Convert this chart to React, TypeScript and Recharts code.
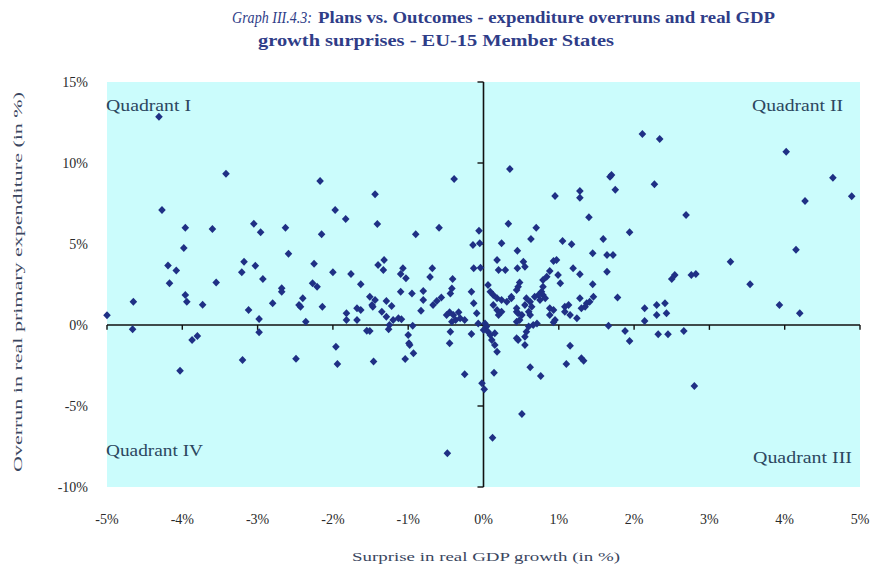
import { CartesianGrid, ReferenceLine, Scatter, ScatterChart, XAxis, YAxis } from "recharts";

// [growth surprise %, expenditure overrun %]
const upperLeft: [number, number][] = [
  [-4.31, 12.86], [-3.42, 9.34], [-4.27, 7.1], [-3.96, 6.0], [-3.6, 5.93], [-3.05, 6.25], [-2.96, 5.72],
  [-2.63, 6.0], [-3.98, 4.75], [-2.59, 4.4], [-4.19, 3.68], [-4.08, 3.37], [-3.18, 3.91], [-3.03, 3.66],
  [-3.21, 3.25], [-2.93, 2.84], [-4.17, 2.57], [-3.55, 2.63], [-5.0, 0.6], [-4.65, 1.44], [-3.96, 1.85],
  [-3.94, 1.44], [-3.73, 1.25], [-3.12, 0.93], [-2.8, 1.34], [-2.68, 2.27], [-2.68, 2.06], [-2.45, 1.23],
  [-2.98, 0.37], [-2.17, 8.89], [-1.44, 8.07], [-0.39, 9.01], [-1.97, 7.1], [-1.83, 6.54], [-1.41, 6.23],
  [-2.15, 5.6], [-0.9, 5.6], [-0.59, 6.01], [-0.06, 5.82], [-0.14, 4.94], [-0.05, 5.04], [-2.25, 3.78],
  [-2.0, 3.25], [-1.76, 3.15], [-1.4, 3.7], [-1.32, 4.01], [-1.33, 3.4], [-1.07, 3.5], [-1.1, 3.15],
  [-1.03, 2.88], [-0.68, 3.5], [-0.71, 2.96], [-0.41, 2.84], [-0.13, 3.5], [-0.04, 3.54], [-2.27, 2.57],
  [-1.63, 2.51], [-2.21, 2.36], [-2.4, 1.65], [-2.43, 1.13], [-2.14, 1.13], [-2.36, 0.2], [-1.82, 0.72],
  [-1.82, 0.31], [-1.68, 1.03], [-1.63, 0.93], [-1.68, 0.31], [-1.47, 1.13], [-0.42, 2.26], [-0.44, 1.95],
  [-1.1, 2.06], [-0.95, 1.95], [-0.8, 2.1], [-0.8, 1.54], [-0.67, 1.23], [-0.62, 1.48], [-0.56, 1.69],
  [-0.83, 0.88], [-1.51, 1.75], [-1.44, 1.54], [-1.48, 1.23], [-1.29, 1.48], [-1.22, 1.17], [-1.35, 0.82],
  [-1.29, 0.51], [-1.25, 0.0], [-1.2, 0.31], [-1.13, 0.41], [-1.09, 0.35], [-0.45, 0.78], [-0.49, 0.62],
  [-0.4, 0.62], [-0.33, 0.78], [-0.37, 0.31], [-0.42, 0.2], [-0.31, 0.41], [-0.25, 0.31], [-0.16, 2.06],
  [-0.13, 1.34], [-0.09, 0.72], [-0.07, 0.1],
];

const lowerLeft: [number, number][] = [
  [-4.66, -0.27], [-2.98, -0.45], [-3.87, -0.93], [-3.8, -0.68], [-4.03, -2.82], [-3.2, -2.16],
  [-2.49, -2.08], [-1.55, -0.35], [-1.26, -0.27], [-1.0, -0.62], [-0.98, -1.23], [-0.93, -1.75],
  [-1.04, -2.1], [-1.96, -1.34], [-1.94, -2.41], [-1.46, -2.26], [-0.16, -0.56], [-0.25, -3.04],
  [-0.02, -3.6], [-0.48, -7.92], [-0.94, -0.04], [-1.51, -0.37], [-0.99, -1.13], [-0.44, -0.41],
  [-0.45, -1.13],
];

const upperRight: [number, number][] = [
  [0.02, 0.1], [0.06, 2.47], [0.09, 2.06], [0.13, 1.85], [0.18, 1.65], [0.24, 1.54], [0.31, 1.44],
  [0.37, 1.65], [0.13, 1.23], [0.18, 0.93], [0.24, 0.82], [0.2, 0.62], [0.44, 0.82], [0.44, 0.2],
  [0.24, 5.04], [0.45, 4.59], [0.18, 4.01], [0.2, 3.4], [0.29, 3.4], [0.45, 3.5], [0.7, 6.0], [0.63, 5.31],
  [1.05, 5.19], [1.17, 4.98], [1.59, 5.31], [1.94, 5.72], [0.53, 3.91], [0.55, 3.6], [0.93, 3.95],
  [0.97, 4.01], [1.45, 4.43], [1.64, 4.32], [1.72, 4.32], [1.19, 3.5], [1.28, 3.13], [1.64, 3.29],
  [0.88, 3.33], [0.84, 2.98], [0.79, 2.78], [0.99, 3.09], [1.02, 2.57], [1.45, 2.51], [0.48, 2.63],
  [0.46, 2.36], [0.44, 2.16], [0.79, 2.36], [0.77, 2.06], [0.79, 1.85], [0.73, 1.85], [0.68, 1.75],
  [0.75, 1.54], [0.82, 1.65], [0.57, 1.65], [0.62, 1.44], [0.55, 1.23], [0.64, 1.13], [0.6, 0.82],
  [0.37, 1.75], [0.44, 1.03], [0.46, 0.72], [0.51, 0.62], [0.48, 0.31], [0.62, 0.62], [0.71, 0.1],
  [0.66, 0.0], [0.88, 1.03], [0.93, 0.93], [0.88, 0.62], [0.95, 0.31], [0.93, 0.17], [1.08, 1.13],
  [1.13, 1.23], [1.08, 0.82], [1.15, 0.62], [1.24, 0.41], [1.28, 1.65], [1.3, 1.03], [1.35, 1.13],
  [1.37, 1.34], [1.41, 1.44], [1.46, 1.75], [1.78, 1.69], [2.14, 1.03], [2.14, 0.25], [2.3, 1.23],
  [2.3, 0.62], [2.41, 1.34], [2.43, 0.72], [2.11, 11.79], [2.34, 11.48], [0.35, 9.63], [1.68, 9.15],
  [1.7, 9.26], [2.27, 8.69], [1.75, 8.35], [0.95, 7.96], [1.28, 8.27], [1.28, 7.86], [1.4, 6.65],
  [0.33, 6.25], [2.54, 3.09], [2.5, 2.84], [4.02, 10.7], [4.64, 9.09], [4.89, 7.94], [4.27, 7.65],
  [2.69, 6.79], [4.15, 4.65], [3.28, 3.91], [2.76, 3.09], [2.82, 3.15], [3.54, 2.51], [3.93, 1.23],
  [4.2, 0.72],
];

const lowerRight: [number, number][] = [
  [0.04, -0.1], [0.0, -0.31], [0.06, -0.41], [0.09, -0.62], [0.15, -0.51], [0.11, -0.93], [0.15, -1.23],
  [0.18, -1.65], [0.44, -0.82], [0.6, -0.1], [0.57, -0.41], [0.55, -0.72], [0.46, -0.93], [0.55, -1.23],
  [1.15, -1.28], [1.66, -0.04], [1.88, -0.37], [1.94, -0.99], [2.32, -0.57], [2.45, -0.57], [0.01, -3.97],
  [0.14, -2.94], [0.51, -5.49], [0.12, -6.96], [0.62, -2.61], [0.76, -3.15], [1.1, -2.41], [1.3, -2.06],
  [1.33, -2.2], [2.66, -0.37], [2.8, -3.77],
];

const xTicks = [-5, -4, -3, -2, -1, 0, 1, 2, 3, 4, 5];
const yTicks = [-10, -5, 0, 5, 10, 15];

const points = [...upperLeft, ...lowerLeft, ...upperRight, ...lowerRight].map(([x, y]) => ({ x, y }));

const serif = "'Liberation Serif', 'DejaVu Serif', serif";
const marker = "#1f3085";

function Diamond(props: any) {
  const { cx, cy } = props;
  if (cx == null || cy == null) return null;
  return <path d={`M${cx},${cy - 4}L${cx + 3.8},${cy}L${cx},${cy + 4}L${cx - 3.8},${cy}Z`} fill={marker} />;
}

export default function App() {
  return (
    <div style={{ position: "absolute", left: 0, top: 0, width: 880, height: 571, background: "#fff" }}>
      <ScatterChart width={880} height={571} margin={{ top: 82, right: 20, bottom: 0, left: 47 }}>
        <CartesianGrid horizontal={false} vertical={false} fill="#cbfcfc" stroke="none" />
        <XAxis
          type="number"
          dataKey="x"
          domain={[-5, 5]}
          ticks={xTicks}
          height={84}
          axisLine={false}
          tickLine={false}
          tickSize={0}
          tickMargin={27}
          tickFormatter={(v) => `${v}%`}
          tick={{ fill: "#2a2a2a", fontSize: 14, fontFamily: serif }}
        />
        <YAxis
          type="number"
          dataKey="y"
          domain={[-10, 15]}
          ticks={yTicks}
          width={60}
          axisLine={false}
          tickLine={false}
          tickSize={0}
          tickMargin={19}
          tickFormatter={(v) => `${v}%`}
          tick={{ fill: "#2a2a2a", fontSize: 14, fontFamily: serif }}
        />
        <ReferenceLine y={0} stroke="#111" strokeWidth={1.6} />
        <ReferenceLine x={0} stroke="#111" strokeWidth={1.6} />
        {xTicks.map((t) => (
          <ReferenceLine key={`xt${t}`} segment={[{ x: t, y: 0 }, { x: t, y: -0.3 }]} stroke="#111" strokeWidth={1.4} />
        ))}
        {yTicks.map((t) => (
          <ReferenceLine key={`yt${t}`} segment={[{ x: 0, y: t }, { x: -0.08, y: t }]} stroke="#111" strokeWidth={1.4} />
        ))}
        <Scatter data={points} shape={<Diamond />} isAnimationActive={false} />
      </ScatterChart>
      <svg width={880} height={571} style={{ position: "absolute", left: 0, top: 0, pointerEvents: "none" }}>
        <text x={232} y={23} fontFamily={serif} fontStyle="italic" fontSize={16} fill="#2f3d88" textLength={80} lengthAdjust="spacingAndGlyphs">
          Graph III.4.3:
        </text>
        <text x={318} y={23} fontFamily={serif} fontWeight="bold" fontSize={16} fill="#2f3d88" textLength={457} lengthAdjust="spacingAndGlyphs">
          Plans vs. Outcomes - expenditure overruns and real GDP
        </text>
        <text x={258} y={46} fontFamily={serif} fontWeight="bold" fontSize={16} fill="#2f3d88" textLength={356} lengthAdjust="spacingAndGlyphs">
          growth surprises - EU-15 Member States
        </text>
        <text x={106} y={111} fontFamily={serif} fontSize={16} fill="#2c4760" textLength={85} lengthAdjust="spacingAndGlyphs">
          Quadrant I
        </text>
        <text x={752} y={111} fontFamily={serif} fontSize={16} fill="#2c4760" textLength={91} lengthAdjust="spacingAndGlyphs">
          Quadrant II
        </text>
        <text x={106} y={456} fontFamily={serif} fontSize={16} fill="#2c4760" textLength={97} lengthAdjust="spacingAndGlyphs">
          Quadrant IV
        </text>
        <text x={753} y={463} fontFamily={serif} fontSize={16} fill="#2c4760" textLength={99} lengthAdjust="spacingAndGlyphs">
          Quadrant III
        </text>
        <text x={486} y={561} textAnchor="middle" fontFamily={serif} fontSize={13} fill="#3a4660" textLength={268} lengthAdjust="spacingAndGlyphs">
          Surprise in real GDP growth (in %)
        </text>
        <text
          transform="translate(22,282) rotate(-90)"
          textAnchor="middle"
          fontFamily={serif}
          fontSize={13}
          fill="#3a4660"
          textLength={380}
          lengthAdjust="spacingAndGlyphs"
        >
          Overrun in real primary expenditure (in %)
        </text>
      </svg>
    </div>
  );
}
